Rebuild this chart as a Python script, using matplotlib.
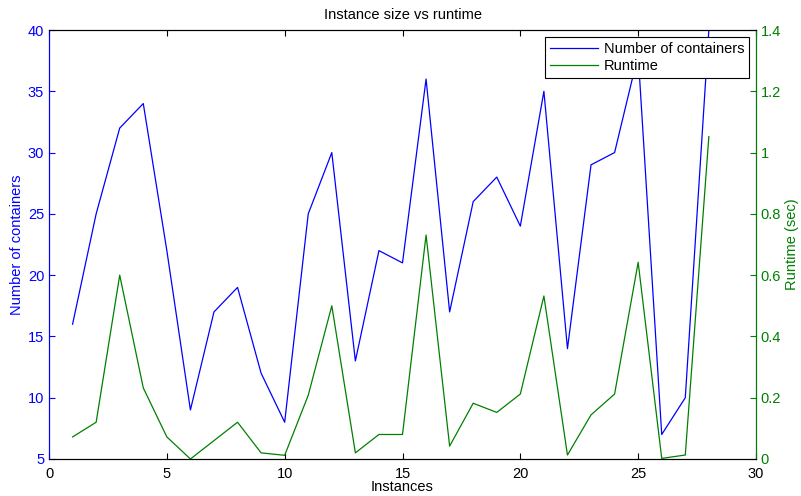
import matplotlib.pyplot as plt
import numpy as np

# 字体：接近 Matlab 的 Helvetica
plt.rcParams['font.family'] = ['Liberation Sans', 'DejaVu Sans']

# 数据：实例编号、容器数量、运行时间
instances = list(range(1, 29))
containers = [16, 25, 32, 34, 22, 9, 17, 19, 12, 8, 25, 30, 13, 22, 21, 36,
              17, 26, 28, 24, 35, 14, 29, 30, 38, 7, 10, 40]
runtime = [0.072, 0.12, 0.60, 0.232, 0.072, 0.0, 0.06, 0.12, 0.02, 0.012,
           0.208, 0.50, 0.02, 0.08, 0.08, 0.731, 0.042, 0.182, 0.152, 0.212,
           0.532, 0.013, 0.144, 0.212, 0.642, 0.002, 0.013, 1.052]

blue = (0, 0, 1)
green = (0, 0.5, 0)
fs = 10.5

fig = plt.figure(figsize=(8.01, 4.96), dpi=100)
ax = fig.add_axes([0.0612, 0.0746, 0.8826, 0.8649])
ax2 = ax.twinx()

l1, = ax.plot(instances, containers, color=blue, lw=0.9, label='Number of containers')
l2, = ax2.plot(instances, runtime, color=green, lw=0.9, label='Runtime')

ax.set_xlim(0, 30)
ax.set_ylim(5, 40)
ax2.set_ylim(0, 1.4)
ax.set_xticks(range(0, 31, 5))
ax.set_yticks(range(5, 41, 5))
ax2.set_yticks(np.arange(0, 1.41, 0.2))
ax2.set_yticklabels(['0', '0.2', '0.4', '0.6', '0.8', '1', '1.2', '1.4'])

ax.tick_params(axis='x', direction='in', top=True, labelsize=fs, length=4, pad=6)
ax.tick_params(axis='y', direction='in', colors=blue, labelsize=fs, length=4)
ax2.tick_params(axis='y', direction='in', colors=green, labelsize=fs, length=4)

ax.spines['left'].set_color(blue)
ax2.spines['left'].set_color(blue)
ax2.spines['right'].set_color(green)

ax.set_title('Instance size vs runtime', fontsize=fs, pad=8)
ax.set_xlabel('Instances', fontsize=fs, labelpad=-1)
ax.set_ylabel('Number of containers', fontsize=fs, color=blue, labelpad=3)
ax2.set_ylabel('Runtime (sec)', fontsize=fs, color=green, labelpad=3)

leg = ax2.legend([l1, l2], ['Number of containers', 'Runtime'], loc='upper right',
                 fontsize=fs, fancybox=False, framealpha=1, edgecolor='black',
                 handlelength=3.3, borderpad=0.3, labelspacing=0.25,
                 borderaxespad=0.5, handletextpad=0.4)
leg.get_frame().set_linewidth(0.8)

fig.savefig('out.png', dpi=100)
